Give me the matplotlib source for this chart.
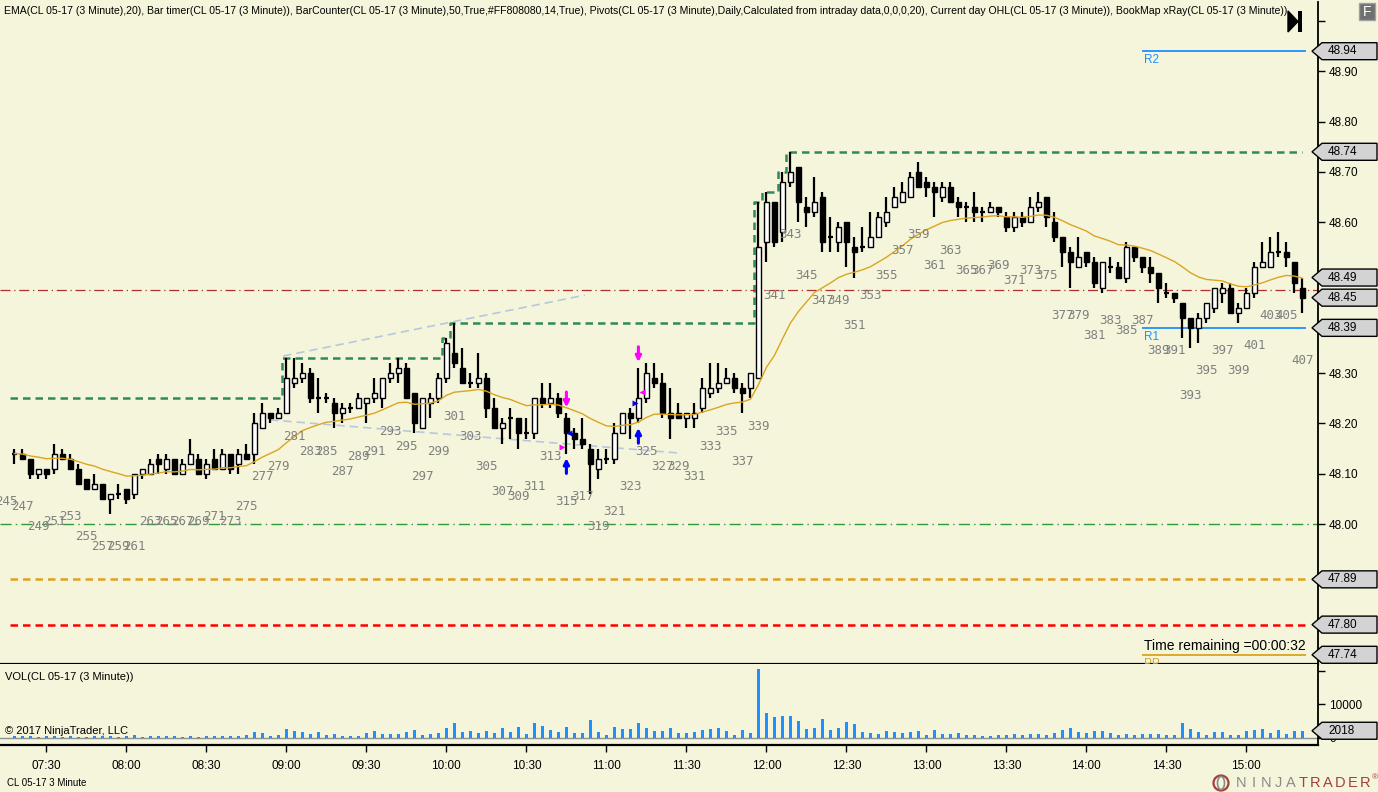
import numpy as np
import matplotlib
matplotlib.use("Agg")
import matplotlib.pyplot as plt
from matplotlib.patches import Rectangle, Polygon, Ellipse
from matplotlib.transforms import blended_transform_factory

W, H = 1378, 792
BG = "#F5F5DC"
plt.rcParams["font.family"] = ["Liberation Sans", "DejaVu Sans"]

# ---- data: CL 05-17, 3 minute bars (BarCounter numbers) ----
first_bar = 245
visible_from = 246
bar_minutes = 3
first_bar_close = 7 * 60 + 15  # 07:15

opens = [48.14, 48.14, 48.14, 48.13, 48.10, 48.11, 48.11, 48.14, 48.13, 48.11,
         48.09, 48.07, 48.08, 48.05, 48.06, 48.07, 48.06, 48.10, 48.10, 48.13,
         48.11, 48.13, 48.10, 48.12, 48.13, 48.10, 48.13, 48.11, 48.14, 48.12,
         48.14, 48.14, 48.19, 48.22, 48.21, 48.22, 48.28, 48.29, 48.30, 48.25,
         48.25, 48.24, 48.22, 48.23, 48.23, 48.24, 48.25, 48.25, 48.29, 48.30,
         48.31, 48.26, 48.19, 48.24, 48.25, 48.29, 48.34, 48.31, 48.28, 48.28,
         48.29, 48.23, 48.19, 48.21, 48.21, 48.18, 48.18, 48.25, 48.24, 48.25,
         48.21, 48.18, 48.17, 48.15, 48.11, 48.13, 48.13, 48.18, 48.22, 48.21,
         48.25, 48.29, 48.28, 48.22, 48.22, 48.21, 48.21, 48.23, 48.26, 48.27,
         48.28, 48.29, 48.27, 48.27, 48.29, 48.56, 48.64, 48.58, 48.68, 48.71,
         48.63, 48.62, 48.65, 48.57, 48.56, 48.60, 48.55, 48.55, 48.55, 48.57,
         48.60, 48.63, 48.64, 48.65, 48.70, 48.68, 48.67, 48.65, 48.67, 48.64,
         48.63, 48.63, 48.62, 48.62, 48.63, 48.61, 48.59, 48.61, 48.60, 48.63,
         48.65, 48.60, 48.57, 48.54, 48.51, 48.54, 48.52, 48.47, 48.51, 48.51,
         48.49, 48.55, 48.53, 48.51, 48.50, 48.46, 48.46, 48.44, 48.41, 48.39,
         48.41, 48.43, 48.46, 48.47, 48.42, 48.43, 48.46, 48.51, 48.51, 48.54,
         48.54, 48.52, 48.47]
highs = [48.15, 48.15, 48.15, 48.13, 48.11, 48.11, 48.16, 48.15, 48.14, 48.12,
         48.09, 48.10, 48.08, 48.06, 48.08, 48.07, 48.10, 48.11, 48.13, 48.14,
         48.14, 48.13, 48.13, 48.17, 48.14, 48.13, 48.15, 48.15, 48.14, 48.15,
         48.16, 48.22, 48.24, 48.22, 48.23, 48.33, 48.33, 48.32, 48.31, 48.29,
         48.26, 48.25, 48.24, 48.24, 48.26, 48.25, 48.29, 48.29, 48.32, 48.33,
         48.32, 48.26, 48.25, 48.26, 48.30, 48.37, 48.40, 48.35, 48.30, 48.34,
         48.30, 48.25, 48.21, 48.23, 48.21, 48.21, 48.25, 48.28, 48.28, 48.26,
         48.22, 48.19, 48.21, 48.16, 48.15, 48.15, 48.20, 48.22, 48.23, 48.31,
         48.32, 48.32, 48.30, 48.27, 48.24, 48.22, 48.24, 48.29, 48.32, 48.32,
         48.31, 48.30, 48.28, 48.30, 48.64, 48.66, 48.64, 48.70, 48.74, 48.71,
         48.65, 48.69, 48.66, 48.61, 48.60, 48.60, 48.57, 48.59, 48.62, 48.62,
         48.65, 48.67, 48.68, 48.70, 48.72, 48.69, 48.68, 48.68, 48.68, 48.65,
         48.64, 48.66, 48.63, 48.64, 48.63, 48.62, 48.62, 48.62, 48.65, 48.66,
         48.65, 48.62, 48.57, 48.55, 48.57, 48.54, 48.53, 48.52, 48.53, 48.52,
         48.56, 48.55, 48.53, 48.53, 48.50, 48.48, 48.46, 48.44, 48.41, 48.42,
         48.44, 48.47, 48.48, 48.48, 48.44, 48.47, 48.52, 48.56, 48.57, 48.58,
         48.56, 48.52, 48.49]
lows = [48.14, 48.12, 48.13, 48.09, 48.09, 48.09, 48.10, 48.13, 48.11, 48.08,
        48.07, 48.07, 48.05, 48.02, 48.05, 48.04, 48.05, 48.09, 48.10, 48.10,
        48.10, 48.10, 48.10, 48.12, 48.10, 48.09, 48.11, 48.11, 48.10, 48.10,
        48.13, 48.12, 48.19, 48.20, 48.21, 48.22, 48.27, 48.28, 48.24, 48.22,
        48.24, 48.19, 48.20, 48.22, 48.23, 48.20, 48.24, 48.23, 48.28, 48.28,
        48.25, 48.18, 48.19, 48.21, 48.24, 48.28, 48.31, 48.28, 48.27, 48.27,
        48.21, 48.19, 48.16, 48.17, 48.15, 48.17, 48.17, 48.23, 48.23, 48.21,
        48.14, 48.15, 48.15, 48.06, 48.09, 48.12, 48.12, 48.18, 48.17, 48.20,
        48.24, 48.27, 48.21, 48.17, 48.21, 48.19, 48.19, 48.22, 48.25, 48.26,
        48.28, 48.26, 48.22, 48.25, 48.29, 48.52, 48.55, 48.56, 48.67, 48.60,
        48.59, 48.61, 48.54, 48.54, 48.54, 48.51, 48.49, 48.54, 48.55, 48.57,
        48.59, 48.63, 48.64, 48.65, 48.67, 48.65, 48.61, 48.64, 48.64, 48.61,
        48.60, 48.60, 48.60, 48.62, 48.61, 48.58, 48.58, 48.59, 48.60, 48.62,
        48.59, 48.56, 48.51, 48.47, 48.51, 48.51, 48.47, 48.46, 48.50, 48.49,
        48.48, 48.52, 48.50, 48.48, 48.44, 48.45, 48.44, 48.37, 48.35, 48.36,
        48.40, 48.42, 48.44, 48.42, 48.40, 48.43, 48.45, 48.51, 48.51, 48.53,
        48.51, 48.46, 48.42]
closes = [48.14, 48.14, 48.13, 48.10, 48.11, 48.10, 48.14, 48.13, 48.11, 48.08,
          48.07, 48.08, 48.05, 48.06, 48.06, 48.05, 48.10, 48.11, 48.12, 48.12,
          48.13, 48.10, 48.12, 48.14, 48.10, 48.12, 48.11, 48.14, 48.11, 48.14,
          48.13, 48.20, 48.22, 48.21, 48.22, 48.29, 48.29, 48.30, 48.25, 48.25,
          48.25, 48.22, 48.23, 48.23, 48.25, 48.25, 48.26, 48.29, 48.30, 48.31,
          48.25, 48.20, 48.25, 48.25, 48.29, 48.36, 48.32, 48.28, 48.28, 48.29,
          48.23, 48.19, 48.20, 48.21, 48.18, 48.18, 48.25, 48.24, 48.25, 48.22,
          48.18, 48.17, 48.16, 48.12, 48.13, 48.13, 48.18, 48.22, 48.21, 48.25,
          48.30, 48.28, 48.22, 48.21, 48.21, 48.22, 48.22, 48.27, 48.27, 48.28,
          48.29, 48.27, 48.26, 48.30, 48.55, 48.64, 48.56, 48.68, 48.70, 48.64,
          48.62, 48.64, 48.56, 48.57, 48.59, 48.56, 48.54, 48.55, 48.57, 48.61,
          48.62, 48.65, 48.66, 48.69, 48.67, 48.67, 48.66, 48.67, 48.64, 48.63,
          48.63, 48.62, 48.62, 48.63, 48.62, 48.59, 48.61, 48.60, 48.63, 48.64,
          48.61, 48.57, 48.54, 48.52, 48.53, 48.52, 48.48, 48.52, 48.51, 48.49,
          48.55, 48.53, 48.51, 48.50, 48.47, 48.46, 48.45, 48.41, 48.39, 48.41,
          48.44, 48.47, 48.47, 48.42, 48.43, 48.46, 48.51, 48.52, 48.54, 48.54,
          48.53, 48.48, 48.45]
volumes = [400, 500, 300, 500, 200, 300, 500, 200, 300, 200,
           200, 300, 400, 300, 200, 300, 600, 200, 300, 300,
           300, 300, 200, 300, 200, 300, 300, 300, 300, 300,
           600, 1600, 1300, 400, 600, 2500, 1900, 1700, 1100, 1600,
           600, 1000, 400, 400, 400, 1300, 1900, 900, 1000, 1100,
           1600, 2100, 700, 1000, 1400, 2700, 4300, 1700, 1900, 1300,
           1900, 1300, 2800, 1600, 3100, 1000, 4300, 3400, 2200, 1700,
           3100, 1300, 1400, 5200, 1600, 700, 3100, 2500, 2500, 4300,
           2800, 1900, 1900, 2800, 1300, 1400, 1600, 2300, 2500, 2900,
           1900, 700, 2200, 1300, 20500, 7300, 6100, 6400, 6400, 4900,
           2500, 2800, 5500, 2200, 2800, 4600, 4000, 1600, 1300, 1000,
           1900, 1600, 1300, 1600, 1900, 700, 2200, 1000, 1000, 1300,
           700, 700, 400, 400, 700, 700, 1000, 700, 1000, 1000,
           700, 1300, 2200, 2800, 1600, 1300, 1900, 1900, 1300, 700,
           1000, 700, 1000, 1000, 1000, 700, 700, 4300, 2500, 1600,
           700, 1600, 1600, 700, 700, 1900, 2200, 2500, 1300, 2200,
           1000, 1900, 2018]

# levels
prior_day_high = 48.25       # current day high before the session move
day_open = 47.89
day_low = 47.80
level_green = 48.00
level_red = 48.465
pivot_pp, pivot_r1, pivot_r2 = 47.74, 48.39, 48.94
pivot_width = 20             # bars

# manual trend lines (bar, price)
trend_upper = [(279.6, 48.334), (317.3, 48.455)]
trend_lower = [(277.95, 48.207), (329.2, 48.141)]

# BookMap xRay signals
xray_sell_bars = [315, 324]
xray_buy_bars = [315, 324]
xray_marks = [(314.5, 48.153, ">", "#FF00FF"), (315.3, 48.180, "<", "#0000FF"),
              (323.6, 48.240, ">", "#0000FF"), (324.4, 48.262, "<", "#FF00FF")]

header = ("EMA(CL 05-17 (3 Minute),20), Bar timer(CL 05-17 (3 Minute)), "
          "BarCounter(CL 05-17 (3 Minute),50,True,#FF808080,14,True), "
          "Pivots(CL 05-17 (3 Minute),Daily,Calculated from intraday data,0,0,0,20), "
          "Current day OHL(CL 05-17 (3 Minute)), BookMap xRay(CL 05-17 (3 Minute))")

opens, highs, lows, closes = map(np.array, (opens, highs, lows, closes))
volumes = np.array(volumes)
bars = np.arange(first_bar, first_bar + len(closes))
vis = bars >= visible_from
last_bar = bars[-1]

# EMA(20)
alpha = 2 / 21
ema = np.empty(len(closes))
ema[0] = closes[0]
for k in range(1, len(closes)):
    ema[k] = alpha * closes[k] + (1 - alpha) * ema[k - 1]

day_high = np.maximum.accumulate(np.maximum(highs, prior_day_high))

# ---- figure ----
fig = plt.figure(figsize=(W / 100, H / 100), dpi=100, facecolor=BG)
ax = fig.add_axes([0, 1 - 664 / H, 1318 / W, 662 / H], facecolor=BG)
vax = fig.add_axes([0, 1 - 745 / H, 1318 / W, 81 / H], facecolor=BG, sharex=ax)

ax.set_xlim(244.2, 408.95)
ax.set_ylim(47.7217, 49.0378)
vax.set_ylim(-2242, 21976)

for a in (ax, vax):
    for s in ("top", "left"):
        a.spines[s].set_visible(False)
    a.spines["right"].set_linewidth(1.3)
    a.spines["bottom"].set_linewidth(1.6)
    a.yaxis.tick_right()
    a.tick_params(axis="y", direction="out", length=5, width=1, labelsize=8.5, pad=3)

# candles
body_w = 0.66
for b, o, h, l, c in zip(bars[vis], opens[vis], highs[vis], lows[vis], closes[vis]):
    ax.vlines(b, l, h, color="black", lw=1.6, zorder=3)
    if abs(c - o) < 1e-9:
        ax.hlines(o, b - body_w / 2, b + body_w / 2, color="black", lw=1.6, zorder=4)
    else:
        ax.add_patch(Rectangle((b - body_w / 2, min(o, c)), body_w, abs(c - o),
                               fc="white" if c > o else "black", ec="black",
                               lw=1.0, zorder=4))

ax.plot(bars[vis], ema[vis], color="#DAA520", lw=1.0, zorder=5)

# current day OHL
ax.plot(np.r_[visible_from - 0.5, bars[vis]], np.r_[day_high[vis][0], day_high[vis]],
        drawstyle="steps-mid", color="#2E8B57", lw=1.8, ls=(0, (3, 2)), zorder=2)
ax.hlines(day_open, visible_from - 0.5, last_bar + 0.8, color="#E0A020", lw=1.8,
          ls=(0, (3, 2)), zorder=2)
ax.hlines(day_low, visible_from - 0.5, last_bar + 0.8, color="#FF0000", lw=1.8,
          ls=(0, (3, 2)), zorder=2)
ax.axhline(level_green, color="#2E9B3A", lw=1.0, ls=(0, (8, 3, 1, 3)), zorder=2)
ax.axhline(level_red, color="#B03030", lw=0.9, ls=(0, (8, 3, 1, 3)), zorder=2)

# pivots
pv0 = last_bar - pivot_width
for lvl, col, name in ((pivot_r2, "#1E90FF", "R2"), (pivot_r1, "#1E90FF", "R1"),
                       (pivot_pp, "#DAA520", "PP")):
    ax.hlines(lvl, pv0, last_bar + 0.4, color=col, lw=1.3, zorder=2)
    ax.annotate(name, (pv0, lvl), xytext=(1, -2), textcoords="offset points",
                ha="left", va="top", color=col, fontsize=8.5, annotation_clip=False,
                clip_on=True)

ax.annotate("Time remaining =00:00:32", (last_bar + 0.4, pivot_pp), xytext=(0, 1.5),
            textcoords="offset points", ha="right", va="bottom", fontsize=10,
            color="black")

# trend lines
for line in (trend_upper, trend_lower):
    xs, ys = zip(*line)
    ax.plot(xs, ys, color="#B8C8DC", lw=1.2, ls=(0, (5, 3)), zorder=1)

# xRay signals
for b in xray_sell_bars:
    h = highs[b - first_bar]
    ax.annotate("", xy=(b, h + 0.012), xytext=(0, 11), textcoords="offset points",
                arrowprops=dict(arrowstyle="-|>", color="#FF00FF", lw=2.2,
                                mutation_scale=8, shrinkA=0, shrinkB=0), zorder=6)
for b in xray_buy_bars:
    l = lows[b - first_bar]
    ax.annotate("", xy=(b, l - 0.009), xytext=(0, -11), textcoords="offset points",
                arrowprops=dict(arrowstyle="-|>", color="#0000FF", lw=2.2,
                                mutation_scale=8, shrinkA=0, shrinkB=0), zorder=6)
for bx, py, mk, col in xray_marks:
    ax.plot(bx, py, marker=mk, color=col, ms=5, mec="none", zorder=6)

# bar counter labels (odd bars, below the low)
label_drop = 0.0954
for b, l in zip(bars, lows):
    if b % 2 == 1:
        ax.text(b, l - label_drop, str(b), ha="center", va="center", color="#808080",
                fontsize=9, family="DejaVu Sans Mono", zorder=7, clip_on=True)

# volume
vax.bar(bars[vis], volumes[vis], width=0.33, color="#1E90FF", zorder=3)
vax.axhline(0, color="#909090", lw=1.0, zorder=2)
vax.set_yticks([0, 10000, 20000])
vax.set_yticklabels(["0", "10000", ""])

# x ticks at full and half hours
bar_time = first_bar_close + bar_minutes * (bars - first_bar)
tick_mask = bar_time % 30 == 0
vax.set_xticks(bars[tick_mask])
vax.set_xticklabels([f"{t // 60:02d}:{t % 60:02d}" for t in bar_time[tick_mask]])
vax.tick_params(axis="x", direction="out", length=5, width=1, labelsize=8.5, pad=6)
ax.tick_params(axis="x", bottom=False, labelbottom=False)

# price ticks, labels hidden where a marker box sits
boxes = [pivot_r2, day_high[-1], round(ema[-1], 2), closes[-1], pivot_r1,
         day_open, day_low, pivot_pp]
ticks = np.round(np.arange(47.80, 49.001, 0.10), 2)
ax.set_yticks(ticks)
ax.set_yticklabels(["" if (min(abs(t - bx) for bx in boxes) < 0.025 or t > 48.95)
                    else f"{t:.2f}" for t in ticks])


def value_box(axis, value, text):
    tr = blended_transform_factory(fig.transFigure, axis.transData)
    ppx = axis.transData.transform((0, 1))[1] - axis.transData.transform((0, 0))[1]
    hh = 8.5 / ppx
    x0, x1, x2 = 1312 / W, 1322 / W, 1377 / W
    poly = Polygon([(x0, value), (x1, value + hh), (x2, value + hh),
                    (x2, value - hh), (x1, value - hh)], closed=True,
                   fc="#D3D3D3", ec="black", lw=1.0, transform=tr, clip_on=False,
                   zorder=10)
    fig.add_artist(poly)
    fig.text(1328 / W, 0, text, transform=tr, fontsize=8.5, va="center",
             ha="left", zorder=11).set_y(value)


for v in boxes:
    value_box(ax, v, f"{v:.2f}")
value_box(vax, volumes[-1], f"{volumes[-1]}")


# texts and decorations
def fx(px):
    return px / W


def fy(py):
    return 1 - py / H


hdr = fig.text(fx(4), fy(11), header, fontsize=8, va="center", ha="left")
fig.text(fx(5), fy(677), "VOL(CL 05-17 (3 Minute))", fontsize=8, va="center")
fig.text(fx(5), fy(731), "\u00a9 2017 NinjaTrader, LLC", fontsize=8, va="center")
fig.text(fx(7), fy(783), "CL 05-17 3 Minute", fontsize=7, va="center")

fig.add_artist(Polygon([(fx(1288), fy(11)), (fx(1288), fy(32)), (fx(1298), fy(21.5))],
                       closed=True, fc="black", ec="black", transform=fig.transFigure))
fig.add_artist(Rectangle((fx(1298), fy(32)), 4 / W, 21 / H, fc="black",
                         transform=fig.transFigure))
fig.add_artist(Rectangle((fx(1359), fy(20)), 16 / W, 17 / H, fc="#707070",
                         ec="#A0A0A0", lw=1, transform=fig.transFigure))
fig.text(fx(1367), fy(11.5), "F", color="white", fontsize=10, ha="center", va="center")

# NinjaTrader logo
fig.add_artist(Ellipse((fx(1221), fy(783)), 15 / W, 15 / H, fc="none", ec="#A0413A",
                       lw=1.6, transform=fig.transFigure))
fig.add_artist(Ellipse((fx(1221), fy(783)), 7 / W, 13 / H, fc="none", ec="#8A8A8A",
                       lw=1.2, transform=fig.transFigure))
for k, ch in enumerate("NINJATRADER"):
    fig.text(fx(1241 + k * 12.4), fy(783), ch, fontsize=10.5, ha="center", va="center",
             color="#8A8A8A" if k < 5 else "#A0413A")
fig.text(fx(1375), fy(778), "\u00ae", fontsize=6, ha="center", va="center",
         color="#A0413A")

# fit the header to its width in the reference
fig.canvas.draw()
bb = hdr.get_window_extent(fig.canvas.get_renderer())
hdr.set_fontsize(hdr.get_fontsize() * 1291 / bb.width)

fig.savefig("out.png", dpi=100, facecolor=BG)
